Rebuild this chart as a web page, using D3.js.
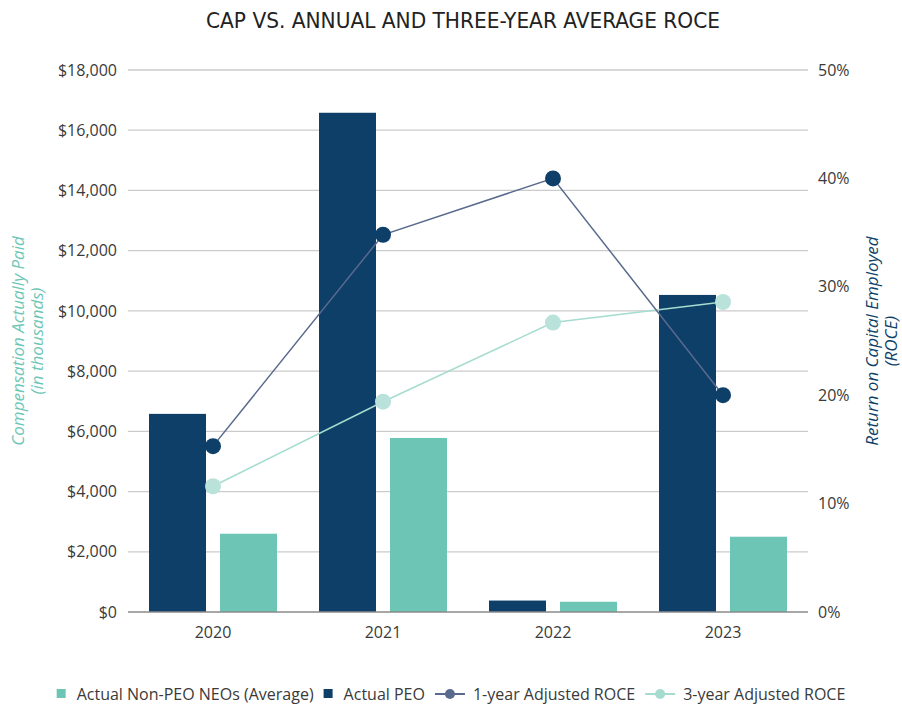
<!DOCTYPE html>
<html>
<head>
<meta charset="utf-8">
<script src="https://cdn.jsdelivr.net/npm/d3@7"></script>
<style>
  html, body { margin: 0; padding: 0; background: #fff; }
  svg { display: block; }
  text { font-family: "Open Sans", "Roboto", sans-serif; }
</style>
</head>
<body>
<svg id="chart" width="902" height="706"></svg>
<script>
// Fiscal years
const years = ["2020", "2021", "2022", "2023"];
// Compensation actually paid, $ thousands
const peoCap = [6580, 16580, 380, 10530];
const neoCap = [2600, 5780, 340, 2500];
// Return on capital employed, %
const roce1yr = [15.3, 34.8, 40.0, 20.0];
const roce3yr = [11.6, 19.4, 26.7, 28.6];
// Axis ticks
const capTicks = [0, 2000, 4000, 6000, 8000, 10000, 12000, 14000, 16000, 18000];
const roceTicks = [0, 10, 20, 30, 40, 50];

const colors = {
  peo: "#0e3f68",
  neo: "#6dc6b5",
  line1: "#5a6a8e",
  dot1: "#0e3f68",
  line3: "#a6dcd0",
  dot3: "#b8e2da",
  grid: "#cbcbcb",
  base: "#8a8a8a",
  text: "#3a3a3a"
};

const svg = d3.select("#chart");
const plot = { left: 128, right: 808, top: 70, bottom: 612 };

const x = d3.scaleBand().domain(years).range([plot.left, plot.right]).paddingInner(0).paddingOuter(0);
const yCap = d3.scaleLinear().domain([0, 18000]).range([plot.bottom, plot.top]);
const yRoce = d3.scaleLinear().domain([0, 50]).range([plot.bottom, plot.top]);

const barW = 57, barGap = 14;
const groupW = barW * 2 + barGap;
const tickFont = "16px";

// Title
svg.append("text")
  .attr("x", 463).attr("y", 28)
  .attr("text-anchor", "middle")
  .attr("textLength", 514).attr("lengthAdjust", "spacingAndGlyphs")
  .style("font-family", "'Liberation Sans Narrow', 'DejaVu Sans Condensed', Roboto, sans-serif")
  .style("font-size", "21px")
  .style("fill", "#222")
  .text("CAP VS. ANNUAL AND THREE-YEAR AVERAGE ROCE");

// Gridlines from the left axis
svg.append("g")
  .selectAll("line")
  .data(capTicks.filter(d => d > 0))
  .join("line")
  .attr("x1", plot.left).attr("x2", plot.right)
  .attr("y1", d => yCap(d)).attr("y2", d => yCap(d))
  .attr("stroke", colors.grid).attr("stroke-width", 1.3);

// Left axis labels
const leftAxis = d3.axisLeft(yCap)
  .tickValues(capTicks)
  .tickSize(0).tickPadding(11)
  .tickFormat(d => "$" + d3.format(",")(d));
const gL = svg.append("g").attr("transform", `translate(${plot.left},0)`).call(leftAxis);
gL.select(".domain").remove();
gL.selectAll("text").style("font-size", tickFont).style("fill", colors.text).style("font-family", "'Open Sans', sans-serif");

// Right axis labels
const rightAxis = d3.axisRight(yRoce)
  .tickValues(roceTicks)
  .tickSize(0).tickPadding(10)
  .tickFormat(d => d + "%");
const gR = svg.append("g").attr("transform", `translate(${plot.right},0)`).call(rightAxis);
gR.select(".domain").remove();
gR.selectAll("text").style("font-size", tickFont).style("fill", colors.text).style("font-family", "'Open Sans', sans-serif");

// Bars
const bars = svg.append("g");
bars.selectAll("rect.peo")
  .data(years)
  .join("rect")
  .attr("class", "peo")
  .attr("x", d => x(d) + (x.bandwidth() - groupW) / 2)
  .attr("width", barW)
  .attr("y", (d, i) => yCap(peoCap[i]))
  .attr("height", (d, i) => yCap(0) - yCap(peoCap[i]))
  .attr("fill", colors.peo);
bars.selectAll("rect.neo")
  .data(years)
  .join("rect")
  .attr("class", "neo")
  .attr("x", d => x(d) + (x.bandwidth() - groupW) / 2 + barW + barGap)
  .attr("width", barW)
  .attr("y", (d, i) => yCap(neoCap[i]))
  .attr("height", (d, i) => yCap(0) - yCap(neoCap[i]))
  .attr("fill", colors.neo);

// Baseline
svg.append("line")
  .attr("x1", plot.left).attr("x2", plot.right)
  .attr("y1", yCap(0)).attr("y2", yCap(0))
  .attr("stroke", colors.base).attr("stroke-width", 1.5);

// Bottom axis labels
const bottomAxis = d3.axisBottom(x).tickSize(0).tickPadding(15);
const gB = svg.append("g").attr("transform", `translate(0,${plot.bottom})`).call(bottomAxis);
gB.select(".domain").remove();
gB.selectAll("text").style("font-size", tickFont).style("fill", colors.text).style("font-family", "'Open Sans', sans-serif");

// ROCE lines
const cx = d => x(d) + x.bandwidth() / 2;
const line = d3.line().x(d => cx(d.year)).y(d => yRoce(d.v));
const series = [
  { vals: roce3yr, line: colors.line3, dot: colors.dot3 },
  { vals: roce1yr, line: colors.line1, dot: colors.dot1 }
];
series.forEach(s => {
  const pts = years.map((y, i) => ({ year: y, v: s.vals[i] }));
  svg.append("path")
    .datum(pts)
    .attr("d", line)
    .attr("fill", "none")
    .attr("stroke", s.line)
    .attr("stroke-width", 1.5);
  svg.append("g").selectAll("circle")
    .data(pts)
    .join("circle")
    .attr("cx", d => cx(d.year))
    .attr("cy", d => yRoce(d.v))
    .attr("r", 8)
    .attr("fill", s.dot);
});

// Axis titles
const leftTitle = svg.append("text")
  .attr("transform", "translate(24,341) rotate(-90)")
  .attr("text-anchor", "middle")
  .style("font-size", "17px").style("font-style", "italic")
  .style("fill", colors.neo);
leftTitle.append("tspan").attr("x", 0).attr("dy", 0).text("Compensation Actually Paid");
leftTitle.append("tspan").attr("x", 0).attr("dy", 19).text("(in thousands)");

const rightTitle = svg.append("text")
  .attr("transform", "translate(878,341) rotate(-90)")
  .attr("text-anchor", "middle")
  .style("font-size", "17px").style("font-style", "italic")
  .style("fill", colors.peo);
rightTitle.append("tspan").attr("x", 0).attr("dy", 0).text("Return on Capital Employed");
rightTitle.append("tspan").attr("x", 0).attr("dy", 19).text("(ROCE)");

// Legend
const legendItems = [
  { label: "Actual Non-PEO NEOs (Average)", type: "square", color: colors.neo },
  { label: "Actual PEO", type: "square", color: colors.peo },
  { label: "1-year Adjusted ROCE", type: "line", color: colors.line1, dot: colors.line1 },
  { label: "3-year Adjusted ROCE", type: "line", color: colors.line3, dot: colors.line3 }
];
const legend = svg.append("g");
const legendY = 694;
let lx = 0;
legendItems.forEach(item => {
  const g = legend.append("g").attr("transform", `translate(${lx},0)`);
  let sw, pad;
  if (item.type === "square") {
    g.append("rect").attr("x", 0).attr("y", legendY - 5).attr("width", 9).attr("height", 9).attr("fill", item.color);
    sw = 9; pad = 11;
  } else {
    g.append("line").attr("x1", 0).attr("x2", 30).attr("y1", legendY).attr("y2", legendY)
      .attr("stroke", item.color).attr("stroke-width", 2);
    g.append("circle").attr("cx", 15).attr("cy", legendY).attr("r", 5).attr("fill", item.dot);
    sw = 30; pad = 8;
  }
  const t = g.append("text").attr("x", sw + pad).attr("y", legendY + 5.5)
    .style("font-size", "16px").style("fill", colors.text).text(item.label);
  lx += sw + pad + t.node().getComputedTextLength() + 10;
});
const legendW = lx - 10;
legend.attr("transform", `translate(${(902 - legendW) / 2},0)`);
</script>
</body>
</html>
